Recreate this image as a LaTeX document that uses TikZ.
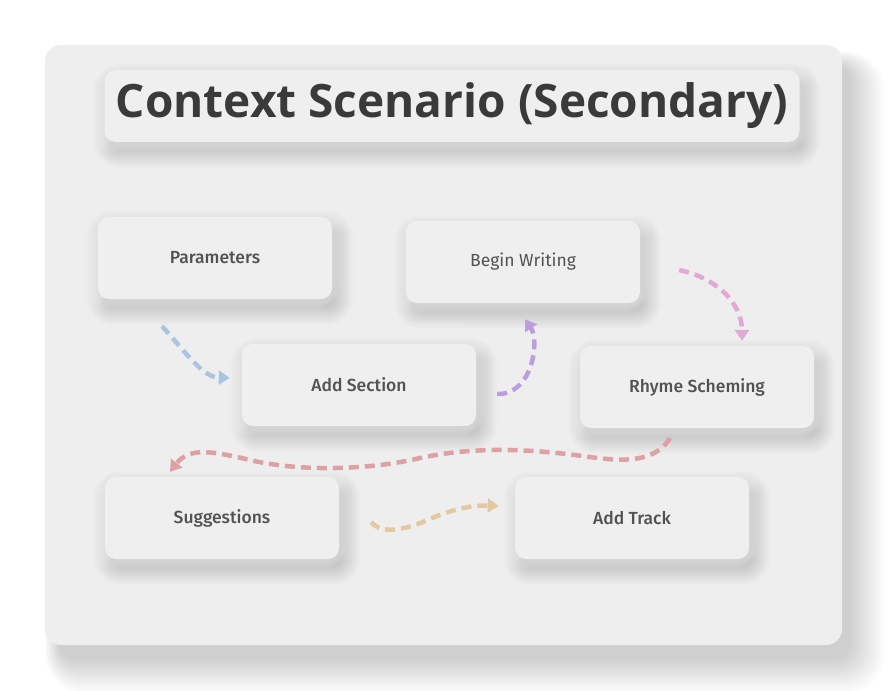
\documentclass[tikz,border=0pt]{standalone}
\usepackage{fontspec}
\setmainfont{Open Sans}
\newfontfamily\cardfont{Fira Sans Medium}
\newfontfamily\cardlight{Fira Sans}
\usetikzlibrary{arrows.meta,calc,positioning}
\pgfdeclarelayer{back}
\pgfdeclarelayer{shade}
\pgfsetlayers{back,shade,main}
\definecolor{panel}{HTML}{EEEEEE}
\definecolor{cardfill}{HTML}{EFEFEF}
\definecolor{ink}{HTML}{3A3A3A}
\definecolor{txt}{HTML}{525252}
\definecolor{flowblue}{HTML}{A9C5E2}
\definecolor{flowpurple}{HTML}{B9A0DD}
\definecolor{flowpink}{HTML}{E2A9D2}
\definecolor{flowred}{HTML}{DDA1A5}
\definecolor{flowtan}{HTML}{E2C9A2}
\tikzset{
  card/.style={rounded corners=11pt,fill=cardfill,minimum width=234pt,minimum height=82pt,
    text=txt,font=\cardfont\fontsize{17.5}{21}\selectfont},
  flow/.style={line width=4.5pt,dash pattern=on 10pt off 6pt,-{Triangle[length=11pt,width=14pt]}},
}
% soft shadow below right and soft light above left of a card
\newcommand{\softcard}[1]{%
  \foreach \s in {-3,...,16}{
    \pgfmathsetmacro\rr{max(11+\s,2)}
    \fill[black,opacity=0.009,rounded corners=\rr pt]
      ([shift={(5-\s,-10-\s)}]#1.south west) rectangle ([shift={(5+\s,-10+\s)}]#1.north east);
    \fill[white,opacity=0.045,rounded corners=\rr pt]
      ([shift={(-6-\s,6-\s)}]#1.south west) rectangle ([shift={(-6+\s,6+\s)}]#1.north east);
  }}

\begin{document}
\begin{tikzpicture}[x=1pt,y=1pt]
\useasboundingbox (0,-691) rectangle (887,0);
\node[card,minimum width=695pt,minimum height=72pt,text=ink,font=\fontsize{46}{54}\selectfont\bfseries] (title) at (452,-106) {Context Scenario (Secondary)};
\node[card] (param) at (215,-258) {Parameters};
\node[card,font=\cardlight\fontsize{17.5}{21}\selectfont] (begin) at (523,-262) {Begin Writing};
\node[card] (addsec) at (359,-385) {Add Section};
\node[card] (rhyme) at (697,-387) {Rhyme Scheming};
\node[card] (sugg) at (222,-518) {Suggestions};
\node[card] (track) at (632,-518) {Add Track};
% panel and shadows
\begin{pgfonlayer}{back}
\fill[white] (0,-691) rectangle (887,0);
\foreach \s in {0,...,23}{
  \fill[black,opacity=0.009,rounded corners={16+\s}]
    (45+14-\s*0.6,-645-14-\s*1.5) rectangle (842+8+\s*1.5,-45-20+\s*0.6);
}
\fill[panel,rounded corners=16pt] (45,-645) rectangle (842,-45);
\end{pgfonlayer}
\begin{pgfonlayer}{shade}
\foreach \n in {title,param,begin,addsec,rhyme,sugg,track}{\softcard{\n}}
\end{pgfonlayer}
% connector ends
\coordinate (b1) at ([shift={(-53,-27)}]param.south);
\coordinate (b2) at ([shift={(-12,7)}]addsec.west);
\coordinate (p1) at ([shift={(21,-9)}]addsec.east);
\coordinate (p2) at ([shift={(2,-16)}]begin.south);
\coordinate (k1) at ([shift={(39,-8)}]begin.east);
\coordinate (k2) at ([shift={(45,5)}]rhyme.north);
\coordinate (r1) at ([shift={(-27,-10)}]rhyme.south);
\coordinate (r2) at ([shift={(-52,5)}]sugg.north);
\coordinate (t1) at ([shift={(32,-4)}]sugg.east);
\coordinate (t2) at ([shift={(-16,12)}]track.west);
\draw[flow,flowblue] (b1) .. controls +(28,-31) and +(-27,1) .. (b2);
\draw[flow,flowpurple] (p1) .. controls +(35,-1) and +(15,-22) .. (p2);
\draw[flow,flowpink] (k1) .. controls +(38,-8) and +(0,37) .. (k2);
\draw[flow,flowred] (r1) .. controls (655,-462) and (625,-462) .. (590,-457)
  .. controls (540,-450) and (480,-445) .. (420,-458)
  .. controls (370,-470) and (300,-472) .. (250,-460)
  .. controls (215,-452) and (190,-446) .. (r2);
\draw[flow,flowtan] (t1) .. controls (382,-535) and (405,-530) .. (430,-519)
  .. controls (455,-508) and (475,-505) .. (t2);
\end{tikzpicture}
\end{document}
